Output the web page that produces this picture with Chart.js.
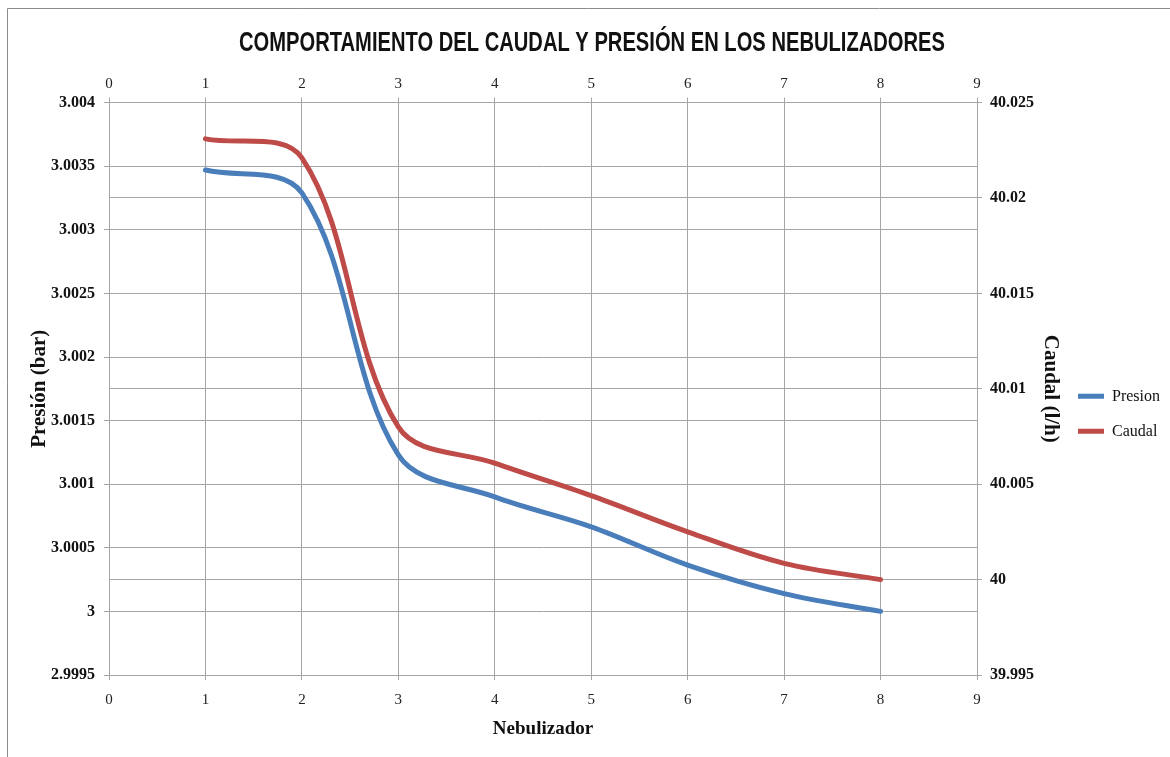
<!DOCTYPE html>
<html lang="es">
<head>
<meta charset="utf-8">
<title>Comportamiento del caudal y presión en los nebulizadores</title>
<script src="https://cdn.jsdelivr.net/npm/chart.js@4.4.1/dist/chart.umd.min.js"></script>
<style>
  html, body { margin: 0; padding: 0; background: #fff; }
  #wrap { width: 1170px; height: 757px; }
</style>
</head>
<body>
<div id="wrap"><canvas id="caudalChart" width="1170" height="757"></canvas></div>
<script>
// datos
const nebulizador = [1, 2, 3, 4, 5, 6, 7, 8];
const presion = [3.00347, 3.00329, 3.00123, 3.00090, 3.000665, 3.000364, 3.00014, 3.00000];
const caudal = [40.0231, 40.0221, 40.0080, 40.0061, 40.0044, 40.0025, 40.00085, 40.0000];

const xTicks = [0, 1, 2, 3, 4, 5, 6, 7, 8, 9];

const AZUL = '#4a7ebb';
const ROJO = '#be4b48';
const GRIS = '#a6a6a6';
const serif = "'Liberation Serif', 'Times New Roman', serif";

const toPoints = (ys) => nebulizador.map((x, i) => ({ x, y: ys[i] }));

// marco gris del area del grafico (como en Excel)
const marco = {
    id: 'marco',
    beforeDraw(chart) {
        const ctx = chart.ctx;
        ctx.save();
        ctx.fillStyle = '#fff';
        ctx.fillRect(0, 0, chart.width, chart.height);
        ctx.strokeStyle = '#8c8c8c';
        ctx.lineWidth = 1;
        ctx.beginPath();
        ctx.moveTo(7.5, chart.height);
        ctx.lineTo(7.5, 8.5);
        ctx.lineTo(chart.width, 8.5);
        ctx.stroke();
        ctx.restore();

        // el titulo original usa una letra condensada: se estrecha en horizontal
        const tb = chart.titleBlock;
        if (tb && !tb._estrecho) {
            const dibujar = tb.draw.bind(tb);
            tb.draw = function () {
                const c = chart.ctx;
                const cx = (tb.left + tb.right) / 2 + 25;
                c.save();
                c.translate(cx, 0);
                c.scale(0.72, 1);
                c.translate(-cx, 0);
                dibujar();
                c.restore();
            };
            tb._estrecho = true;
        }
    }
};

const ctx = document.getElementById('caudalChart').getContext('2d');
new Chart(ctx, {
    type: 'line',
    data: {
        datasets: [
            {
                label: 'Presion',
                data: toPoints(presion),
                borderColor: AZUL,
                backgroundColor: AZUL,
                borderWidth: 5,
                borderCapStyle: 'round',
                pointRadius: 0,
                tension: 0.35,
                yAxisID: 'y'
            },
            {
                label: 'Caudal',
                data: toPoints(caudal),
                borderColor: ROJO,
                backgroundColor: ROJO,
                borderWidth: 5,
                borderCapStyle: 'round',
                pointRadius: 0,
                tension: 0.35,
                yAxisID: 'y1'
            }
        ]
    },
    options: {
        responsive: false,
        animation: false,
        layout: { padding: { left: 0, right: 0, top: 0, bottom: 17 } },
        scales: {
            x: {
                type: 'linear',
                position: 'bottom',
                min: 0,
                max: 9,
                afterBuildTicks: (s) => { s.ticks = xTicks.map(v => ({ value: v })); },
                afterFit: (s) => { s.height = 65; },
                grid: { color: GRIS, tickLength: 5 },
                border: { color: GRIS },
                ticks: { color: '#222', padding: 11, font: { family: serif, size: 15 }, maxRotation: 0 },
                title: { display: true, text: 'Nebulizador', color: '#111', padding: { top: 0, bottom: 0 }, font: { family: serif, size: 19, weight: 'bold' } }
            },
            x2: {
                type: 'linear',
                position: 'top',
                min: 0,
                max: 9,
                afterBuildTicks: (s) => { s.ticks = xTicks.map(v => ({ value: v })); },
                afterFit: (s) => { s.height = 30; },
                grid: { color: GRIS, tickLength: 5, drawOnChartArea: false },
                border: { color: GRIS },
                ticks: { color: '#222', padding: 5, font: { family: serif, size: 15 }, maxRotation: 0 }
            },
            y: {
                position: 'left',
                min: 2.9995,
                max: 3.004,
                afterFit: (s) => { s.width = 109; },
                grid: { color: GRIS, tickLength: 5 },
                border: { color: GRIS },
                ticks: {
                    stepSize: 0.0005,
                    padding: 9,
                    color: '#111',
                    font: { family: serif, size: 16, weight: 'bold' },
                    callback: (v) => String(+v.toFixed(4))
                },
                title: { display: true, text: 'Presión (bar)', color: '#111', padding: { top: 27, bottom: 0 }, font: { family: serif, size: 21, weight: 'bold' } }
            },
            y1: {
                position: 'right',
                min: 39.995,
                max: 40.025,
                afterFit: (s) => { s.width = 82; },
                grid: { color: GRIS, tickLength: 5 },
                border: { color: GRIS },
                ticks: {
                    stepSize: 0.005,
                    padding: 8,
                    color: '#111',
                    font: { family: serif, size: 16, weight: 'bold' },
                    callback: (v) => String(+v.toFixed(3))
                },
                title: { display: true, text: 'Caudal (l/h)', color: '#111', padding: { top: -4, bottom: 0 }, font: { family: serif, size: 21, weight: 'bold' } }
            }
        },
        plugins: {
            title: {
                display: true,
                text: 'COMPORTAMIENTO DEL CAUDAL Y PRESIÓN EN LOS NEBULIZADORES',
                color: '#111',
                padding: { top: 26, bottom: 13 },
                font: { family: "'Liberation Sans Narrow', 'Liberation Sans', sans-serif", size: 28, weight: 'bold' }
            },
            legend: {
                position: 'right',
                fullSize: false,
                title: { display: true, text: '', padding: { top: 38, bottom: 0 }, font: { size: 10 } },
                labels: {
                    usePointStyle: true,
                    pointStyle: 'line',
                    pointStyleWidth: 26,
                    padding: 19,
                    color: '#111',
                    font: { family: serif, size: 16 }
                }
            },
            tooltip: { enabled: false }
        }
    },
    plugins: [marco]
});
</script>
</body>
</html>
